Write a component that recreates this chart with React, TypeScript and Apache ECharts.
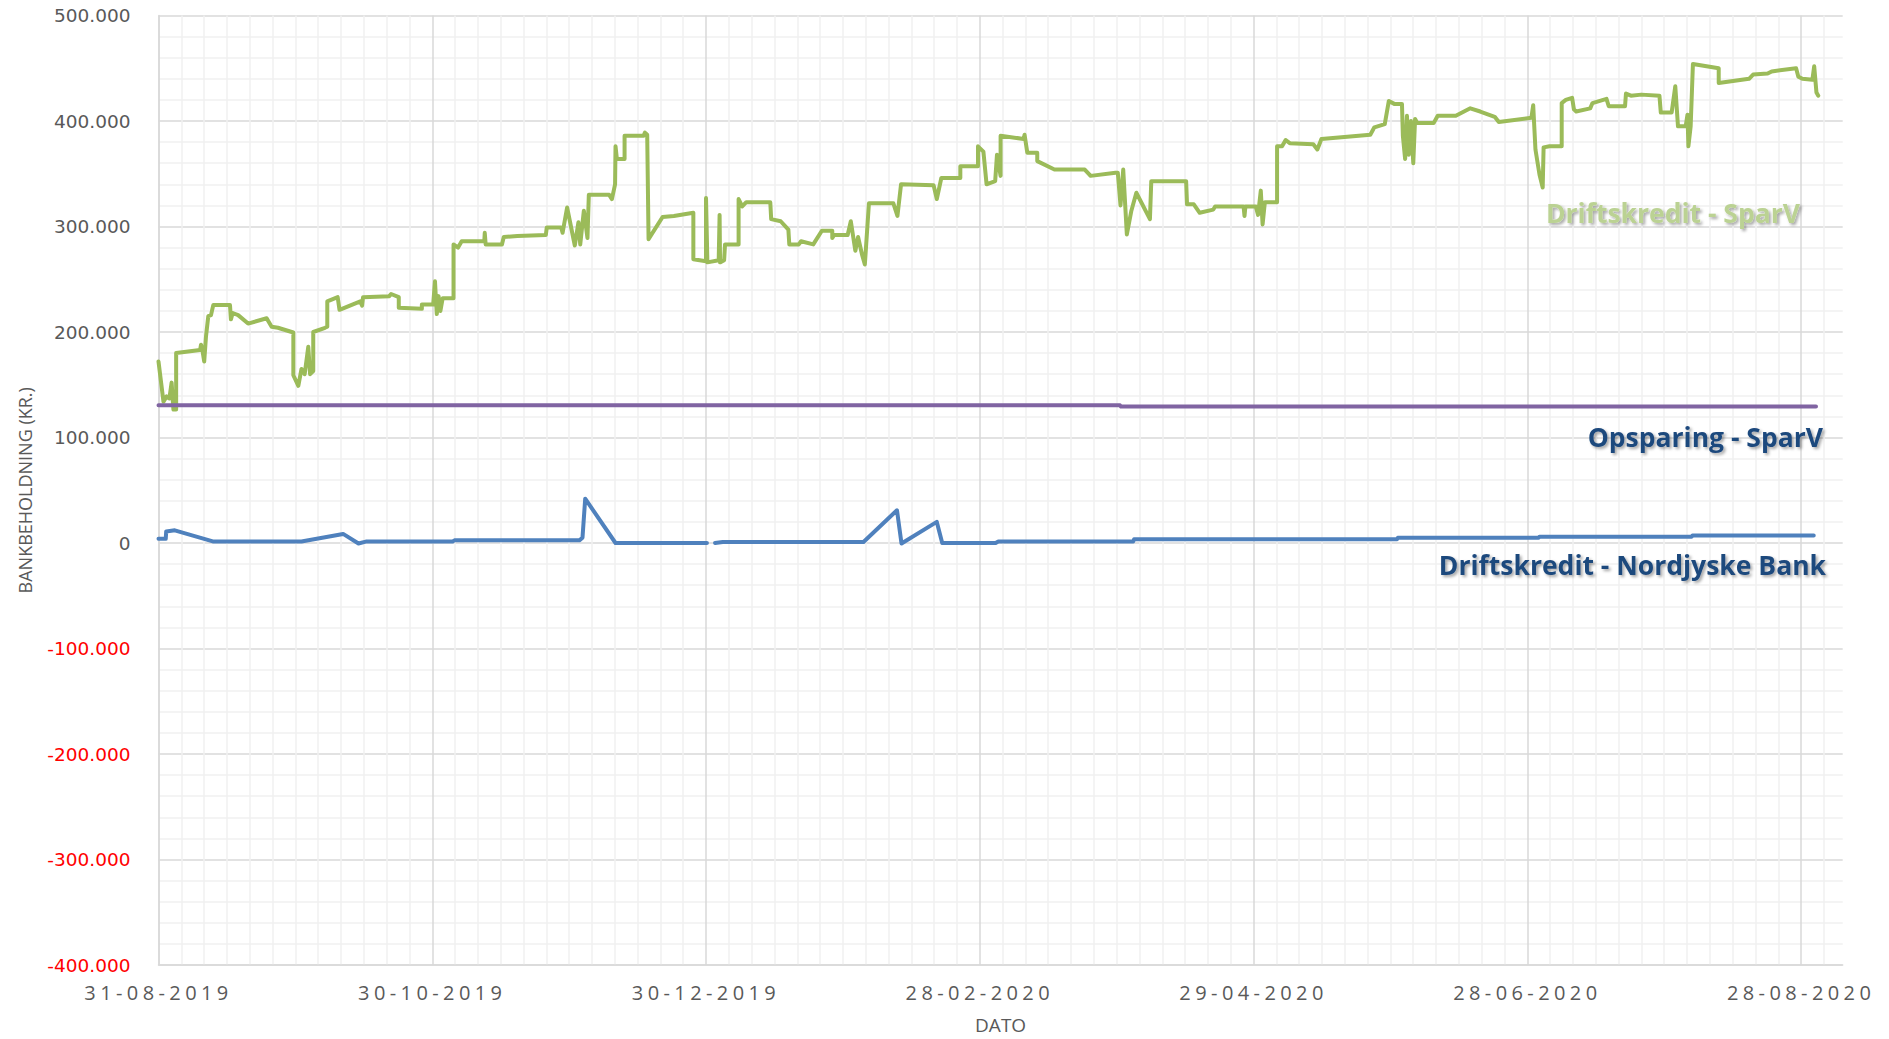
import React, { useEffect, useRef } from "react";
import * as echarts from "echarts";

// ---------- data (x = days after 31-08-2019, y = kr.) ----------
const startDateUTC = Date.UTC(2019, 7, 31);
const daysPerLabel = 60.5;
const minorPerLabel = 12;
const xMaxDays = 372.2;

const yMin = -400000;
const yMax = 500000;
const yMinorStep = 20000;
const yLabelStep = 100000;

const driftskreditSparV: [number, number][] = [
  [0, 172000], [1.1, 134000], [1.8, 139000], [2.4, 137000], [2.9, 152000], [3.3, 126500], [3.9, 126500],
  [3.9, 180000], [9.2, 183000], [9.4, 188000], [9.7, 183000], [10.1, 172000], [10.5, 196000], [11.0, 215000],
  [11.6, 216000], [12.1, 225500], [15.8, 225500], [16.0, 212000], [16.4, 218000], [17.6, 216000], [19.8, 208000],
  [23.9, 213000], [25.0, 205000], [26.4, 204000], [29.8, 199500], [29.8, 159000], [30.9, 149000], [31.6, 165000],
  [32.3, 160000], [33.1, 186000], [33.5, 160000], [34.2, 163000], [34.2, 200000], [36.8, 204000], [37.3, 205000],
  [37.3, 229000], [39.6, 233000], [40.0, 221000], [44.6, 229000], [45.0, 225000], [45.2, 233000], [51.0, 234000],
  [51.4, 236000], [53.1, 233000], [53.1, 223000], [58.2, 222000], [58.2, 226000], [60.7, 226000], [61.1, 248000],
  [61.5, 217000], [61.9, 234000], [62.3, 220000], [62.8, 232000], [65.2, 232000], [65.2, 283000], [66.2, 280000],
  [67.0, 286000], [72.0, 286000], [72.1, 294000], [72.3, 283000], [75.9, 283000], [76.3, 290000], [79.3, 291000],
  [85.6, 292000], [85.8, 299000], [89.0, 299000], [89.3, 294000], [90.3, 318000], [92.0, 282000], [92.8, 304000],
  [93.2, 283000], [94.0, 315000], [94.8, 289000], [95.1, 330000], [99.6, 330000], [100.2, 326000], [100.9, 340000],
  [101.0, 376000], [101.3, 364000], [103.0, 364000], [103.0, 386000], [107.2, 386000], [107.5, 389000],
  [108.0, 387000], [108.3, 288000], [111.4, 309000], [113.9, 310000], [118.2, 313000], [118.2, 269000],
  [121.0, 267000], [121.0, 327000], [121.3, 266000], [123.8, 268000], [124.0, 311000], [124.1, 266000],
  [125.0, 268000], [125.2, 283000], [128.2, 283000], [128.2, 326000], [129.0, 319000], [129.9, 323000],
  [135.2, 323000], [135.4, 307000], [137.5, 305000], [139.2, 297000], [139.4, 283000], [141.5, 283000],
  [142.0, 286000], [144.7, 283000], [146.6, 296000], [148.9, 296000], [148.9, 289000], [149.3, 292000],
  [152.3, 292000], [153.0, 305000], [154.0, 277000], [154.6, 290000], [155.5, 273000], [156.1, 264000],
  [157.0, 322000], [162.4, 322000], [163.3, 310000], [164.1, 340000], [171.3, 339000], [172.0, 326000],
  [173.0, 346000], [177.2, 346000], [177.2, 357000], [181.1, 357000], [181.1, 376000], [182.3, 371000],
  [183.0, 340000], [184.9, 343000], [185.3, 368000], [186.1, 348000], [186.1, 386000], [191.2, 383000],
  [191.4, 387000], [192.0, 370000], [194.2, 370000], [194.2, 362000], [198.0, 354000], [204.7, 354000],
  [206.0, 348000], [211.5, 351000], [212.0, 351000], [212.6, 320000], [213.2, 354000], [214.0, 292500],
  [215.0, 315000], [216.1, 332000], [219.1, 307000], [219.4, 343000], [227.1, 343000], [227.3, 321000],
  [228.8, 321000], [230.1, 313000], [233.1, 316000], [233.5, 319000], [239.8, 319000], [240.0, 310000],
  [240.2, 319000], [242.5, 319000], [243.0, 311000], [243.6, 334000], [244.0, 302000], [244.5, 323000],
  [247.2, 323000], [247.2, 376000], [248.3, 376000], [249.1, 382000], [250.0, 379000], [255.2, 378000],
  [256.1, 373000], [257.0, 383000], [267.8, 387000], [268.7, 394000], [271.0, 397000], [271.9, 419000],
  [273.2, 416000], [274.8, 416000], [275.0, 386000], [275.5, 364000], [275.9, 405000], [276.3, 368000],
  [276.8, 400000], [277.3, 360000], [277.7, 402000], [278.2, 398000], [281.8, 398000], [282.7, 405000],
  [286.7, 405000], [289.9, 412000], [292.1, 409000], [295.3, 404000], [296.2, 399000], [303.4, 403000],
  [303.8, 415000], [304.3, 373000], [305.2, 349000], [305.9, 337000], [306.1, 375000], [307.4, 376000],
  [310.1, 376000], [310.1, 417000], [311.0, 420000], [312.4, 422000], [312.8, 411000], [313.3, 409000],
  [316.4, 412000], [316.9, 417000], [320.0, 421000], [320.5, 414000], [324.1, 414000], [324.3, 426000],
  [325.4, 424000], [327.7, 425000], [331.7, 424000], [332.0, 408000], [334.4, 408000], [335.2, 433000],
  [335.8, 395000], [337.5, 395000], [337.9, 406000], [338.1, 376000], [338.6, 395000], [339.1, 454000],
  [344.8, 450000], [344.8, 436000], [351.5, 440000], [352.4, 444000], [355.6, 445000], [356.5, 447000],
  [361.9, 450000], [362.4, 442000], [363.3, 440000], [365.5, 439000], [365.9, 452000], [366.4, 427000],
  [366.8, 424000],
];

const opsparingSparV: [number, number][] = [
  [0, 130500], [212.5, 130500], [212.7, 129300], [366.3, 129300],
];

const driftskreditNordjyske: [number, number | null][] = [
  [0, 4000], [1.6, 4000], [1.7, 11000], [3.6, 12000], [12.0, 1500], [31.6, 1500], [40.8, 8600], [44.2, -500],
  [46.0, 1500], [65.0, 1500], [65.4, 2500], [93.0, 2500], [93.7, 5000], [94.3, 42000], [101.0, 0], [121.2, 0],
  [121.6, null], [123.0, 0], [124.7, 1000], [155.8, 1000], [163.2, 31000], [164.2, -500], [172.0, 20000],
  [173.2, 0], [185.0, 0], [185.6, 1500], [215.4, 1500], [215.6, 3500], [273.7, 3500], [273.9, 5000],
  [305.0, 5000], [305.2, 6000], [338.8, 6000], [339.0, 7000], [365.8, 7000],
];

const seriesNames = ["Driftskredit - SparV", "Opsparing - SparV", "Driftskredit - Nordjyske Bank"];
const seriesColors = ["#9BBB59", "#8064A2", "#4F81BD"];

// ---------- helpers ----------
const toUnit = (day: number) => (day * minorPerLabel) / daysPerLabel;
const mapData = (arr: [number, number | null][]) => arr.map(([d, v]) => [toUnit(d), v]);

const pad = (n: number) => (n < 10 ? "0" + n : "" + n);
const formatDate = (u: number) => {
  const k = u / minorPerLabel;
  if (Math.abs(k - Math.round(k)) > 1e-6) return "";
  const days = Math.floor(Math.round(k) * daysPerLabel);
  const d = new Date(startDateUTC + days * 86400000);
  return `${pad(d.getUTCDate())}-${pad(d.getUTCMonth() + 1)}-${d.getUTCFullYear()}`;
};
const formatKr = (v: number) => {
  if (Math.abs(v % yLabelStep) > 1e-6) return "";
  const s = Math.abs(Math.round(v)).toString().replace(/\B(?=(\d{3})+(?!\d))/g, ".");
  return (v < 0 ? "-" : "") + s;
};

const major = "#D9D9D9";
const minor = "#F0F0F0";
const xSplitColors = [major, ...Array(minorPerLabel - 1).fill(minor)];
const ySplitColors = [major, ...Array(yLabelStep / yMinorStep - 1).fill(minor)];

export default function App() {
  const ref = useRef<HTMLDivElement>(null);
  useEffect(() => {
    const el = ref.current;
    if (!el) return;
    const chart = echarts.init(el, null, { renderer: "svg" });
    const labelShadow = {
      textShadowColor: "rgba(0,0,0,0.35)",
      textShadowBlur: 3,
      textShadowOffsetX: 2,
      textShadowOffsetY: 2,
    };
    const lineW = 4;
    chart.setOption({
      animation: false,
      backgroundColor: "#ffffff",
      grid: { left: 158.5, right: 46.3, top: 15.5, bottom: 73.3, containLabel: false },
      xAxis: {
        type: "value",
        min: 0,
        max: toUnit(xMaxDays),
        interval: 1,
        name: "DATO",
        nameLocation: "middle",
        nameGap: 50,
        nameTextStyle: { fontFamily: "Open Sans", fontSize: 19, color: "#595959" },
        axisLine: { show: true, onZero: false, lineStyle: { color: major, width: 1.5 } },
        axisTick: { show: false },
        axisLabel: {
          formatter: formatDate,
          margin: 17,
          fontFamily: "'Open Sans', xlbl",
          fontSize: 20,
          color: "#595959",
          showMaxLabel: false,
        },
        splitLine: { show: true, showMaxLine: false, lineStyle: { color: xSplitColors, width: 1.5 } },
      },
      yAxis: {
        type: "value",
        min: yMin,
        max: yMax,
        interval: yMinorStep,
        name: "BANKBEHOLDNING (KR.)",
        nameLocation: "middle",
        nameRotate: 90,
        nameGap: 125,
        nameTextStyle: { fontFamily: "Open Sans", fontSize: 18, color: "#595959" },
        axisLine: { show: true, lineStyle: { color: major, width: 1.5 } },
        axisTick: { show: false },
        axisLabel: {
          formatter: formatKr,
          margin: 28,
          fontFamily: "DejaVu Sans",
          fontSize: 18.5,
          color: (v: any) => (Number(v) < 0 ? "#FF0000" : "#595959"),
        },
        splitLine: { show: true, lineStyle: { color: ySplitColors, width: 1.5 } },
      },
      series: [
        {
          name: seriesNames[0],
          type: "line",
          data: mapData(driftskreditSparV),
          showSymbol: false,
          symbol: "none",
          lineStyle: { color: seriesColors[0], width: lineW, join: "round", cap: "round" },
          itemStyle: { color: seriesColors[0] },
          z: 3,
        },
        {
          name: seriesNames[1],
          type: "line",
          data: mapData(opsparingSparV),
          showSymbol: false,
          symbol: "none",
          lineStyle: { color: seriesColors[1], width: lineW, join: "round", cap: "round" },
          itemStyle: { color: seriesColors[1] },
          z: 4,
        },
        {
          name: seriesNames[2],
          type: "line",
          data: mapData(driftskreditNordjyske),
          connectNulls: false,
          showSymbol: false,
          symbol: "none",
          lineStyle: { color: seriesColors[2], width: lineW, join: "round", cap: "round" },
          itemStyle: { color: seriesColors[2] },
          z: 4,
        },
      ],
      graphic: [
        {
          type: "text",
          x: 1800,
          y: 213,
          z: 10,
          style: {
            text: seriesNames[0],
            align: "right",
            verticalAlign: "middle",
            fontFamily: "Open Sans",
            fontWeight: "bold",
            fontSize: 26.5,
            fill: "#BBD293",
            ...labelShadow,
          },
        },
        {
          type: "text",
          x: 1823,
          y: 437,
          z: 10,
          style: {
            text: seriesNames[1],
            align: "right",
            verticalAlign: "middle",
            fontFamily: "Open Sans",
            fontWeight: "bold",
            fontSize: 26.5,
            fill: "#1F497D",
            ...labelShadow,
          },
        },
        {
          type: "text",
          x: 1826,
          y: 565,
          z: 10,
          style: {
            text: seriesNames[2],
            align: "right",
            verticalAlign: "middle",
            fontFamily: "Open Sans",
            fontWeight: "bold",
            fontSize: 26.5,
            fill: "#1F497D",
            ...labelShadow,
          },
        },
      ],
    });
    return () => chart.dispose();
  }, []);

  return (
    <>
      <style>{`body{margin:0;} text[style*="xlbl"]{letter-spacing:4.4px;}`}</style>
      <div
        ref={ref}
        style={{ position: "fixed", left: 0, top: 0, width: 1889, height: 1039, background: "#ffffff" }}
      />
    </>
  );
}
